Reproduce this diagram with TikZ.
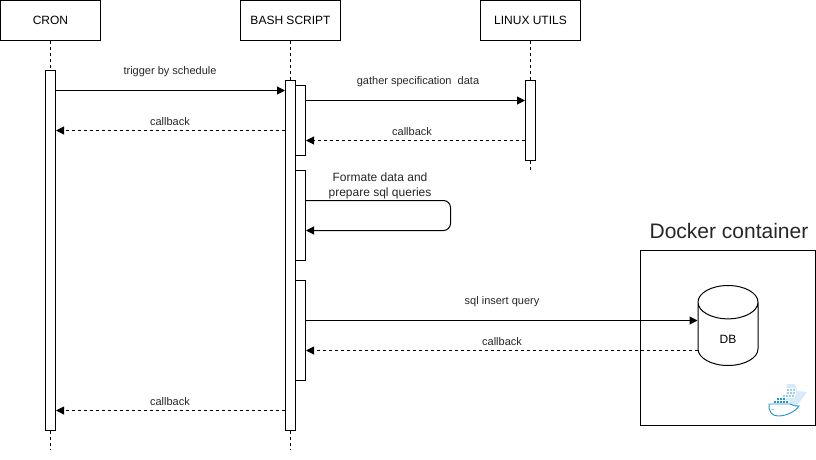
\documentclass[tikz,border=0pt]{standalone}
\usepackage{fontspec}
\setmainfont{Liberation Sans}
\usepackage{xcolor}
\usepackage{tikz}
\usetikzlibrary{shapes.geometric, arrows.meta, positioning, calc}
\definecolor{dockerblue}{HTML}{1E96D6}
\definecolor{dockerpale}{HTML}{C4E2F4}
\begin{document}
\begin{tikzpicture}[
    x=1pt, y=-1pt,
    actor/.style={draw, line width=1pt, minimum width=100pt, minimum height=40pt, inner sep=0pt, font=\fontsize{12}{14}\selectfont},
    bar/.style={draw, fill=white, line width=1pt, minimum width=10pt, inner sep=0pt},
    life/.style={line width=1pt, dash pattern=on 3pt off 3pt},
    msg/.style={-{Triangle[length=8pt,width=8pt]}, line width=1pt},
    ret/.style={msg, dash pattern=on 3pt off 3pt},
    lbl/.style={font=\fontsize{11}{13}\selectfont, text=black!85, inner sep=0pt}
  ]
    \useasboundingbox (0,0) rectangle (816,460);
    % actors
    \node[actor] (cron)  at (50.5,20.5)  {CRON};
    \node[actor] (bash)  at (290.5,20.5) {BASH SCRIPT};
    \node[actor] (linux) at (530.5,20.5) {LINUX UTILS};
    \coordinate (cronend)  at (50.5,450);
    \coordinate (bashend)  at (290.5,450);
    \coordinate (linuxend) at (530.5,170);
    % lifelines
    \draw[life] (cron.south) -- (cronend);
    \draw[life] (bash.south) -- (bashend);
    \draw[life] (linux.south) -- (linuxend);
    % activation bars
    \node[bar, minimum height=360pt] (cronbar)  at (50.5,250.5)  {};
    \node[bar, minimum height=350pt] (bashbar)  at (290.5,255.5) {};
    \node[bar, minimum height=80pt]  (linuxbar) at (530.5,120.5) {};
    \node[bar, minimum height=70pt]  (gather)   at (300.5,120.5) {};
    \node[bar, minimum height=90pt]  (format)   at (300.5,215.5) {};
    \node[bar, minimum height=100pt] (insert)   at (300.5,330.5) {};
    % container
    \node[draw, line width=1pt, minimum width=175pt, minimum height=175pt, inner sep=0pt] (container) at (728,338) {};
    \node[font=\fontsize{21}{25}\selectfont, text=black!85, inner sep=0pt] (title) at (729,231) {Docker container};
    \node[draw, fill=white, line width=1pt, cylinder, shape border rotate=90, aspect=2, anchor=shape center,
          minimum width=60pt, minimum height=80pt, inner sep=0pt, font=\fontsize{12}{14}\selectfont] (db) at (728,325.5) {\smash{\raisebox{-9.3pt}{DB}}};
    % messages
    \draw[msg] (cronbar.east |- 0,90.5) -- (bashbar.west |- 0,90.5);
    \draw[ret] (bashbar.west |- 0,130.5) -- (cronbar.east |- 0,130.5);
    \draw[msg] (gather.east |- 0,100.5) -- (linuxbar.west |- 0,100.5);
    \draw[ret] (linuxbar.west |- 0,140.5) -- (gather.east |- 0,140.5);
    \draw[msg, rounded corners=7pt] (format.east |- 0,200.5) -- (450.5,200.5) -- (450.5,230.5) -- (format.east |- 0,230.5);
    \draw[msg] (insert.east |- 0,320.5) -- (db.west |- 0,320.5);
    \draw[ret] (db.west |- 0,350.5) -- (insert.east |- 0,350.5);
    \draw[ret] (bashbar.west |- 0,410.5) -- (cronbar.east |- 0,410.5);
    % labels
    \node[lbl] (trigger) at (170,71.5) {trigger by schedule};
    \node[lbl] (back1) at (170,121.5) {callback};
    \node[lbl] (spec) at (418,81.5) {gather specification\ \ data};
    \node[lbl] (back2) at (412,131.5) {callback};
    \node[lbl, font=\fontsize{12}{15}\selectfont, align=center] (prep) at (380,185.5) {Formate data and\\prepare sql queries};
    \node[lbl] (query) at (502,301.5) {sql insert query};
    \node[lbl] (back3) at (502,341.5) {callback};
    \node[lbl] (back4) at (170,401.5) {callback};
    % docker logo
    \fill[dockerpale!70] (782,403) -- (785,396) -- (787,384) -- (795,384) -- (797,391) -- (807,392) -- (799,403) -- (786,411) -- cycle;
    \foreach \col in {0,1,2} \foreach \row in {0,1} \draw[white, fill=dockerpale!75!dockerblue, line width=.3pt] (786+3*\col,388+3*\row) rectangle ++(3,3);
    \foreach \col in {0,1,2,3} \draw[white, fill=dockerpale!75!dockerblue, line width=.3pt] (782+3*\col,394) rectangle ++(3,3);
    \foreach \col in {0,...,4} \draw[white, fill=dockerblue, line width=.3pt] (773+3*\col,400.5) rectangle ++(3,3);
    \foreach \col in {1,2,3} \draw[white, fill=dockerblue, line width=.3pt] (773+3*\col,397.5) rectangle ++(3,3);
    \fill[white] (769,404) -- (790,404) .. controls (793,405) and (796,407) .. (799,406) .. controls (795,412) and (786,416) .. (778,416) .. controls (772,416) and (768,411) .. (769,404) -- cycle;
    \draw[dockerblue, line width=.9pt] (769,404) -- (790,404) .. controls (793,405) and (796,407) .. (799,406) .. controls (795,412) and (786,416) .. (778,416) .. controls (772,416) and (768,411) .. (769,404) -- cycle;
    \fill[dockerblue] (773,409.5) circle (.7pt);
\end{tikzpicture}
\end{document}
